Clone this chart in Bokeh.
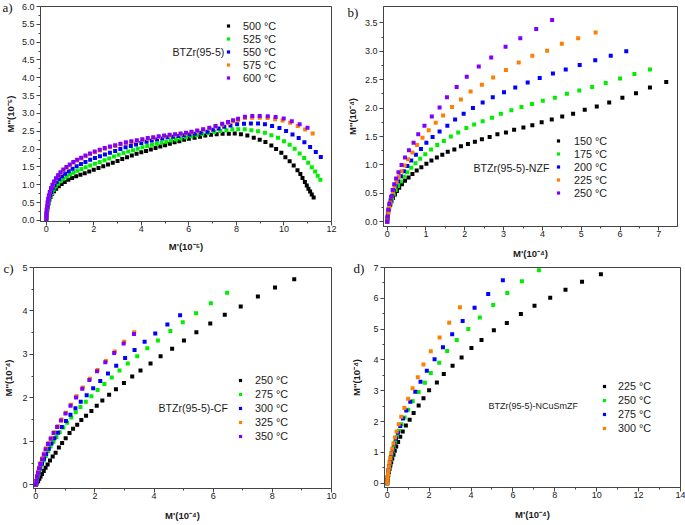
from bokeh.plotting import figure
from bokeh.layouts import column, row
from bokeh.models import Range1d, FixedTicker, PrintfTickFormatter, Legend, LegendItem, Label, Title
from bokeh.embed import file_html
from bokeh.resources import INLINE

# ---------------- data: panel a) BTZr(95-5)  (M' , M'' in 1e-5) ----------------
a_labels = ["500 \u00b0C", "525 \u00b0C", "550 \u00b0C", "575 \u00b0C", "600 \u00b0C"]
a500_x = [0, 0.01, 0.02, 0.04, 0.06, 0.09, 0.13, 0.18, 0.25, 0.33, 0.42, 0.53, 0.65, 0.78, 0.93, 1.09, 1.26, 1.44, 1.62, 1.81,
          2.0, 2.2, 2.4, 2.6, 2.8, 3.0, 3.2, 3.4, 3.6, 3.8, 4.0, 4.2, 4.4, 4.6, 4.8, 5.0, 5.2, 5.4, 5.6, 5.8,
          6.0, 6.24, 6.47, 6.69, 6.93, 7.17, 7.42, 7.68, 7.93, 8.19, 8.46, 8.73, 8.98, 9.22, 9.47, 9.67, 9.89, 10.06, 10.24, 10.41,
          10.57, 10.69, 10.78, 10.88, 10.96, 11.03, 11.10, 11.17, 11.25]
a500_y = [0, 0.08, 0.17, 0.27, 0.37, 0.47, 0.57, 0.66, 0.75, 0.82, 0.89, 0.96, 1.02, 1.08, 1.14, 1.19, 1.24, 1.28, 1.32, 1.37,
          1.42, 1.47, 1.52, 1.57, 1.62, 1.67, 1.72, 1.77, 1.82, 1.87, 1.91, 1.95, 1.99, 2.03, 2.07, 2.11, 2.15, 2.19, 2.22, 2.26,
          2.29, 2.32, 2.35, 2.38, 2.40, 2.42, 2.43, 2.43, 2.44, 2.42, 2.38, 2.32, 2.26, 2.20, 2.10, 2.00, 1.90, 1.77, 1.66, 1.54,
          1.41, 1.30, 1.19, 1.08, 0.98, 0.89, 0.81, 0.73, 0.64]
a525_x = [0, 0.01, 0.02, 0.04, 0.06, 0.09, 0.13, 0.18, 0.24, 0.31, 0.4, 0.5, 0.61, 0.73, 0.86, 1.0, 1.15, 1.31, 1.48, 1.66,
          1.85, 2.05, 2.25, 2.45, 2.65, 2.85, 3.05, 3.25, 3.45, 3.65, 3.85, 4.05, 4.25, 4.45, 4.65, 4.85, 5.05, 5.25, 5.45, 5.65,
          5.88, 6.1, 6.33, 6.57, 6.81, 7.07, 7.33, 7.58, 7.83, 8.08, 8.35, 8.63, 8.91, 9.2, 9.47, 9.75, 10.0, 10.24, 10.45, 10.66,
          10.85, 11.02, 11.17, 11.31, 11.42, 11.53]
a525_y = [0, 0.09, 0.18, 0.28, 0.38, 0.48, 0.58, 0.68, 0.77, 0.86, 0.95, 1.03, 1.10, 1.17, 1.23, 1.29, 1.34, 1.39, 1.44, 1.49,
          1.54, 1.59, 1.64, 1.69, 1.74, 1.79, 1.84, 1.89, 1.93, 1.97, 2.01, 2.05, 2.09, 2.12, 2.15, 2.18, 2.21, 2.24, 2.27, 2.30,
          2.33, 2.36, 2.39, 2.42, 2.45, 2.48, 2.51, 2.53, 2.56, 2.56, 2.56, 2.53, 2.50, 2.46, 2.39, 2.32, 2.22, 2.12, 2.01, 1.88,
          1.75, 1.62, 1.49, 1.37, 1.25, 1.14]
a550_x = [0, 0.01, 0.02, 0.04, 0.06, 0.09, 0.12, 0.16, 0.21, 0.27, 0.35, 0.44, 0.55, 0.67, 0.8, 0.95, 1.11, 1.28, 1.46, 1.65,
          1.85, 2.05, 2.26, 2.47, 2.68, 2.9, 3.12, 3.34, 3.56, 3.78, 4.0, 4.22, 4.44, 4.66, 4.88, 5.1, 5.33, 5.56, 5.79, 6.02,
          6.25, 6.5, 6.78, 7.02, 7.25, 7.49, 7.75, 8.03, 8.32, 8.61, 8.91, 9.2, 9.5, 9.81, 10.09, 10.36, 10.62, 10.86, 11.1, 11.34,
          11.55]
a550_y = [0, 0.1, 0.2, 0.3, 0.4, 0.5, 0.6, 0.7, 0.8, 0.9, 0.99, 1.08, 1.16, 1.24, 1.31, 1.38, 1.45, 1.52, 1.58, 1.64,
          1.70, 1.75, 1.80, 1.85, 1.90, 1.95, 2.0, 2.05, 2.09, 2.13, 2.17, 2.21, 2.24, 2.27, 2.30, 2.33, 2.35, 2.37, 2.39, 2.41,
          2.43, 2.46, 2.49, 2.54, 2.58, 2.63, 2.66, 2.70, 2.71, 2.72, 2.72, 2.70, 2.65, 2.59, 2.51, 2.41, 2.31, 2.19, 2.06, 1.92,
          1.78]
a575_x = [0, 0.005, 0.01, 0.02, 0.04, 0.06, 0.09, 0.12, 0.16, 0.21, 0.27, 0.34, 0.42, 0.51, 0.61, 0.73, 0.86, 1.0, 1.15, 1.31,
          1.48, 1.66, 1.85, 2.05, 2.26, 2.47, 2.69, 2.91, 3.13, 3.36, 3.59, 3.82, 4.05, 4.28, 4.51, 4.74, 4.97, 5.2, 5.43, 5.66,
          5.89, 6.12, 6.36, 6.61, 6.87, 7.13, 7.41, 7.66, 7.87, 8.07, 8.36, 8.66, 8.98, 9.31, 9.63, 9.94, 10.26, 10.58, 10.89, 11.21]
a575_y = [0, 0.1, 0.2, 0.3, 0.4, 0.5, 0.6, 0.7, 0.8, 0.9, 0.99, 1.08, 1.17, 1.25, 1.33, 1.41, 1.48, 1.55, 1.62, 1.68,
          1.74, 1.80, 1.86, 1.91, 1.96, 2.01, 2.05, 2.09, 2.13, 2.17, 2.20, 2.23, 2.26, 2.29, 2.31, 2.34, 2.36, 2.38, 2.40, 2.42,
          2.44, 2.47, 2.50, 2.54, 2.58, 2.63, 2.68, 2.73, 2.78, 2.82, 2.87, 2.88, 2.88, 2.87, 2.84, 2.80, 2.74, 2.65, 2.55, 2.44]
a600_x = [0, 0.005, 0.01, 0.02, 0.04, 0.06, 0.08, 0.11, 0.15, 0.2, 0.26, 0.33, 0.41, 0.5, 0.6, 0.72, 0.85, 0.99, 1.14, 1.3,
          1.47, 1.65, 1.84, 2.04, 2.25, 2.46, 2.68, 2.9, 3.12, 3.35, 3.58, 3.81, 4.04, 4.27, 4.5, 4.73, 4.96, 5.19, 5.42, 5.65,
          5.88, 6.11, 6.35, 6.6, 6.86, 7.12, 7.4, 7.65, 7.86, 8.07, 8.36, 8.67, 8.98, 9.32, 9.65, 9.99, 10.33, 10.66, 10.99]
a600_y = [0, 0.1, 0.2, 0.3, 0.4, 0.5, 0.6, 0.7, 0.8, 0.9, 1.0, 1.09, 1.18, 1.27, 1.35, 1.43, 1.5, 1.57, 1.64, 1.70,
          1.76, 1.82, 1.88, 1.93, 1.98, 2.03, 2.07, 2.11, 2.15, 2.19, 2.22, 2.25, 2.28, 2.31, 2.33, 2.36, 2.38, 2.40, 2.42, 2.44,
          2.46, 2.49, 2.52, 2.56, 2.60, 2.65, 2.71, 2.76, 2.81, 2.85, 2.91, 2.93, 2.93, 2.92, 2.90, 2.86, 2.78, 2.70, 2.60]

# ---------------- data: panel b) BTZr(95-5)-NZF  (1e-4) ----------------
b_labels = ["150 \u00b0C", "175 \u00b0C", "200 \u00b0C", "225 \u00b0C", "250 \u00b0C"]
b150_x = [0, 0.01, 0.02, 0.03, 0.05, 0.08, 0.11, 0.15, 0.2, 0.25, 0.31, 0.38, 0.46, 0.55, 0.65, 0.76, 0.88, 1.01, 1.14, 1.28,
          1.42, 1.56, 1.73, 1.90, 2.08, 2.26, 2.44, 2.64, 2.84, 3.06, 3.27, 3.51, 3.74, 3.98, 4.24, 4.51, 4.79, 5.09, 5.40, 5.72,
          6.06, 6.41, 6.77, 7.19]
b150_y = [0, 0.06, 0.12, 0.18, 0.24, 0.30, 0.36, 0.42, 0.48, 0.54, 0.60, 0.66, 0.72, 0.78, 0.84, 0.90, 0.96, 1.02, 1.08, 1.13,
          1.18, 1.23, 1.27, 1.33, 1.37, 1.41, 1.45, 1.49, 1.54, 1.57, 1.62, 1.66, 1.70, 1.75, 1.80, 1.85, 1.90, 1.97, 2.03, 2.10,
          2.18, 2.26, 2.36, 2.46]
b175_x = [0, 0.01, 0.02, 0.04, 0.06, 0.09, 0.13, 0.17, 0.22, 0.28, 0.35, 0.43, 0.52, 0.62, 0.73, 0.85, 0.98, 1.13, 1.29, 1.46,
          1.64, 1.83, 2.04, 2.24, 2.46, 2.70, 2.93, 3.20, 3.46, 3.73, 4.01, 4.32, 4.63, 4.95, 5.28, 5.63, 6.0, 6.37, 6.77]
b175_y = [0, 0.07, 0.14, 0.21, 0.28, 0.35, 0.42, 0.49, 0.56, 0.63, 0.71, 0.79, 0.87, 0.95, 1.03, 1.11, 1.19, 1.27, 1.35, 1.42,
          1.50, 1.57, 1.65, 1.71, 1.77, 1.83, 1.90, 1.96, 2.02, 2.07, 2.13, 2.18, 2.25, 2.31, 2.37, 2.44, 2.52, 2.60, 2.68]
b200_x = [0, 0.01, 0.02, 0.04, 0.06, 0.09, 0.13, 0.17, 0.22, 0.28, 0.35, 0.43, 0.52, 0.62, 0.74, 0.87, 1.01, 1.17, 1.35, 1.55,
          1.75, 1.97, 2.21, 2.46, 2.72, 3.01, 3.30, 3.62, 3.93, 4.27, 4.60, 4.96, 5.36, 5.76, 6.16]
b200_y = [0, 0.07, 0.14, 0.22, 0.30, 0.38, 0.46, 0.54, 0.62, 0.71, 0.80, 0.89, 0.98, 1.08, 1.18, 1.28, 1.39, 1.49, 1.59, 1.69,
          1.80, 1.90, 2.00, 2.10, 2.19, 2.28, 2.36, 2.45, 2.53, 2.61, 2.68, 2.76, 2.84, 2.92, 3.00]
b225_x = [0, 0.01, 0.03, 0.05, 0.08, 0.11, 0.15, 0.19, 0.24, 0.30, 0.37, 0.45, 0.54, 0.65, 0.77, 0.91, 1.07, 1.25, 1.44, 1.67,
          1.90, 2.15, 2.44, 2.73, 3.06, 3.39, 3.74, 4.12, 4.50, 4.92, 5.37]
b225_y = [0, 0.08, 0.16, 0.25, 0.34, 0.43, 0.52, 0.61, 0.70, 0.79, 0.89, 0.99, 1.10, 1.22, 1.35, 1.48, 1.61, 1.74, 1.87, 2.02,
          2.15, 2.29, 2.41, 2.54, 2.67, 2.80, 2.92, 3.01, 3.13, 3.23, 3.33]
b250_x = [0, 0.01, 0.03, 0.06, 0.1, 0.14, 0.18, 0.23, 0.29, 0.37, 0.46, 0.56, 0.68, 0.80, 0.96, 1.15, 1.35, 1.54, 1.79, 2.05,
          2.36, 2.68, 3.05, 3.43, 3.84, 4.25]
b250_y = [0, 0.09, 0.21, 0.32, 0.44, 0.56, 0.66, 0.76, 0.87, 1.0, 1.13, 1.26, 1.39, 1.54, 1.69, 1.85, 2.01, 2.19, 2.37, 2.55,
          2.73, 2.89, 3.08, 3.23, 3.39, 3.55]

# ---------------- data: panel c) BTZr(95-5)-CF  (1e-4) ----------------
c_labels = ["250 \u00b0C", "275 \u00b0C", "300 \u00b0C", "325 \u00b0C", "350 \u00b0C"]
c250_x = [0, 0.02, 0.05, 0.08, 0.12, 0.16, 0.21, 0.27, 0.33, 0.40, 0.48, 0.57, 0.67, 0.78, 0.89, 1.01, 1.14, 1.26, 1.40, 1.54,
          1.70, 1.88, 2.06, 2.25, 2.48, 2.71, 2.98, 3.26, 3.54, 3.88, 4.22, 4.61, 5.01, 5.43, 5.90, 6.39, 6.93, 7.51, 8.09, 8.74]
c250_y = [0, 0.02, 0.06, 0.09, 0.14, 0.19, 0.25, 0.32, 0.39, 0.47, 0.56, 0.65, 0.74, 0.86, 0.96, 1.07, 1.19, 1.29, 1.38, 1.49,
          1.59, 1.70, 1.82, 1.94, 2.07, 2.20, 2.34, 2.49, 2.63, 2.79, 2.96, 3.13, 3.32, 3.51, 3.71, 3.91, 4.10, 4.33, 4.54, 4.73]
c275_x = [0, 0.02, 0.04, 0.07, 0.10, 0.15, 0.21, 0.27, 0.34, 0.42, 0.50, 0.60, 0.70, 0.81, 0.93, 1.06, 1.20, 1.35, 1.51, 1.69,
          1.88, 2.09, 2.32, 2.57, 2.83, 3.11, 3.43, 3.77, 4.13, 4.55, 4.97, 5.42, 5.92, 6.47]
c275_y = [0, 0.05, 0.11, 0.19, 0.26, 0.36, 0.46, 0.56, 0.66, 0.77, 0.88, 0.99, 1.10, 1.21, 1.32, 1.43, 1.55, 1.67, 1.79, 1.91,
          2.04, 2.18, 2.32, 2.47, 2.63, 2.79, 2.96, 3.14, 3.32, 3.54, 3.74, 3.95, 4.18, 4.42]
c300_x = [0, 0.03, 0.06, 0.10, 0.15, 0.21, 0.28, 0.35, 0.44, 0.53, 0.63, 0.75, 0.88, 1.02, 1.17, 1.34, 1.52, 1.72, 1.94, 2.18,
          2.44, 2.72, 3.02, 3.34, 3.68, 4.04, 4.45, 4.88]
c300_y = [0, 0.09, 0.18, 0.28, 0.38, 0.49, 0.60, 0.71, 0.83, 0.95, 1.07, 1.20, 1.33, 1.47, 1.61, 1.76, 1.91, 2.06, 2.22, 2.39,
          2.56, 2.74, 2.92, 3.10, 3.29, 3.48, 3.69, 3.90]
c325_x = [0, 0.02, 0.05, 0.08, 0.12, 0.16, 0.22, 0.28, 0.35, 0.43, 0.52, 0.62, 0.74, 0.87, 1.02, 1.19, 1.38, 1.59, 1.83, 2.09,
          2.37, 2.67, 2.99, 3.33]
c325_y = [0, 0.10, 0.20, 0.30, 0.40, 0.50, 0.61, 0.72, 0.84, 0.96, 1.08, 1.21, 1.35, 1.50, 1.66, 1.84, 2.04, 2.24, 2.44, 2.64,
          2.85, 3.07, 3.29, 3.51]
c350_x = [0, 0.02, 0.04, 0.07, 0.11, 0.15, 0.21, 0.27, 0.33, 0.41, 0.50, 0.60, 0.72, 0.85, 1.00, 1.17, 1.36, 1.57, 1.81, 2.07,
          2.35, 2.65, 2.97, 3.32]
c350_y = [0, 0.09, 0.19, 0.28, 0.38, 0.48, 0.59, 0.70, 0.82, 0.94, 1.06, 1.19, 1.33, 1.48, 1.64, 1.82, 2.01, 2.21, 2.41, 2.61,
          2.82, 3.03, 3.25, 3.47]

# ---------------- data: panel d) BTZr(95-5)-NCuSmZF  (1e-4) ----------------
d_labels = ["225 \u00b0C", "250 \u00b0C", "275 \u00b0C", "300 \u00b0C"]
d225_x = [0, 0.01, 0.03, 0.05, 0.08, 0.11, 0.15, 0.19, 0.24, 0.30, 0.36, 0.43, 0.52, 0.62, 0.74, 0.89, 1.07, 1.26, 1.50, 1.73,
          2.00, 2.37, 2.70, 3.12, 3.55, 4.02, 4.50, 5.09, 5.71, 6.38, 7.03, 7.78, 8.51, 9.30, 10.20]
d225_y = [0, 0.08, 0.17, 0.26, 0.36, 0.46, 0.57, 0.68, 0.80, 0.92, 1.05, 1.19, 1.34, 1.51, 1.68, 1.87, 2.06, 2.28, 2.52, 2.76,
          3.02, 3.27, 3.54, 3.81, 4.08, 4.39, 4.65, 4.96, 5.20, 5.49, 5.76, 6.02, 6.28, 6.54, 6.78]
d250_x = [0, 0.01, 0.02, 0.04, 0.06, 0.09, 0.12, 0.16, 0.20, 0.25, 0.31, 0.38, 0.46, 0.56, 0.68, 0.83, 1.00, 1.22, 1.50, 1.80,
          2.08, 2.48, 2.86, 3.32, 3.87, 4.42, 5.06, 5.73, 6.43, 7.24]
d250_y = [0, 0.09, 0.18, 0.28, 0.39, 0.51, 0.63, 0.76, 0.89, 1.03, 1.18, 1.34, 1.51, 1.70, 1.91, 2.13, 2.38, 2.66, 2.96, 3.26,
          3.58, 3.91, 4.29, 4.65, 5.00, 5.38, 5.78, 6.17, 6.55, 6.91]
d275_x = [0, 0.01, 0.02, 0.04, 0.06, 0.09, 0.13, 0.17, 0.22, 0.28, 0.34, 0.42, 0.51, 0.62, 0.75, 0.91, 1.10, 1.34, 1.59, 1.89,
          2.26, 2.66, 3.10, 3.60, 4.17, 4.82, 5.52]
d275_y = [0, 0.10, 0.20, 0.31, 0.43, 0.56, 0.69, 0.83, 0.97, 1.12, 1.28, 1.45, 1.64, 1.86, 2.10, 2.36, 2.64, 2.97, 3.29, 3.65,
          4.02, 4.41, 4.83, 5.26, 5.69, 6.14, 6.59]
d300_x = [0, 0.01, 0.02, 0.04, 0.06, 0.08, 0.11, 0.15, 0.19, 0.24, 0.30, 0.37, 0.45, 0.55, 0.67, 0.82, 1.00, 1.21, 1.46, 1.73,
          2.08, 2.50, 2.96, 3.47]
d300_y = [0, 0.09, 0.19, 0.30, 0.42, 0.55, 0.68, 0.82, 0.97, 1.12, 1.29, 1.48, 1.68, 1.91, 2.16, 2.44, 2.74, 3.08, 3.44, 3.85,
          4.28, 4.73, 5.21, 5.71]

# tick values
a_xticks = [0, 2, 4, 6, 8, 10, 12]
a_yticks = [0.0, 0.5, 1.0, 1.5, 2.0, 2.5, 3.0, 3.5, 4.0, 4.5, 5.0, 5.5, 6.0]
b_xticks = [0, 1, 2, 3, 4, 5, 6, 7]
b_yticks = [0.0, 0.5, 1.0, 1.5, 2.0, 2.5, 3.0, 3.5]
c_xticks = [0, 2, 4, 6, 8, 10]
c_yticks = [0, 1, 2, 3, 4, 5]
d_xticks = [0, 2, 4, 6, 8, 10, 12, 14]
d_yticks = [0, 1, 2, 3, 4, 5, 6, 7]

COLORS = ["#000000", "#00ee00", "#0000ff", "#ff8000", "#8000ff"]
FONT = "Liberation Sans"
SERIF = "Liberation Serif"
LINE = "#444444"
TXT = "#1a1a1a"


def mids(t):
    return [(t[i] + t[i + 1]) / 2 for i in range(len(t) - 1)]


def panel(fw, fh, borders, xr, yr, xt, yt, xfmt, yfmt, xlab, ylab, xls, yls):
    l, r, t, b = borders
    p = figure(frame_width=fw, frame_height=fh, x_range=Range1d(*xr), y_range=Range1d(*yr),
               output_backend="svg", toolbar_location=None,
               min_border_left=l, min_border_right=r, min_border_top=t, min_border_bottom=b)
    p.grid.visible = False
    p.outline_line_color = LINE
    p.outline_line_width = 1
    p.background_fill_color = "white"
    p.border_fill_color = "white"
    p.xaxis.ticker = FixedTicker(ticks=xt, minor_ticks=mids(xt))
    p.yaxis.ticker = FixedTicker(ticks=yt, minor_ticks=mids(yt))
    p.xaxis.formatter = PrintfTickFormatter(format=xfmt)
    p.yaxis.formatter = PrintfTickFormatter(format=yfmt)
    p.xaxis.axis_label = xlab
    p.yaxis.axis_label = ylab
    p.xaxis.axis_label_standoff = xls
    p.yaxis.axis_label_standoff = yls
    for ax in (p.xaxis[0], p.yaxis[0]):
        ax.axis_line_color = LINE
        ax.major_tick_line_color = LINE
        ax.minor_tick_line_color = LINE
        ax.major_tick_in = 0
        ax.major_tick_out = 4
        ax.minor_tick_in = 0
        ax.minor_tick_out = 2
        ax.major_label_text_font = FONT
        ax.major_label_text_font_size = "9px"
        ax.major_label_text_color = TXT
        ax.axis_label_text_font = FONT
        ax.axis_label_text_font_size = "9.5px"
        ax.axis_label_text_font_style = "bold"
        ax.axis_label_text_color = TXT
    p.xaxis.major_label_standoff = 0
    p.yaxis.major_label_standoff = 2
    return p


def add_series(p, series, labels, loc, standoff, row_h):
    items = []
    for (xs, ys), lab, col in zip(series, labels, COLORS):
        r = p.scatter(xs, ys, marker="square", size=4, fill_color=col, line_color=None)
        items.append(LegendItem(label=lab, renderers=[r]))
    lg = Legend(items=items, location=loc, orientation="vertical", glyph_width=8, glyph_height=row_h,
                label_height=row_h, label_standoff=standoff, spacing=0, padding=0, margin=0,
                background_fill_alpha=0, border_line_alpha=0, label_text_font=FONT,
                label_text_font_size="10.8px", label_text_color=TXT)
    p.add_layout(lg)


def add_text(p, x, y, txt, size="10.6px"):
    p.add_layout(Label(x=x, y=y, x_units="screen", y_units="screen", text=txt, text_font=FONT,
                       text_font_size=size, text_baseline="middle", text_color=TXT))


def add_tag(p, txt, offset, standoff):
    p.add_layout(Title(text=txt, align="left", offset=offset, standoff=standoff, text_font=SERIF,
                       text_font_size="13px", text_font_style="normal", text_color="#111111"), "above")


# panel a  (canvas 340 x 260)
pa = panel(291, 215, (40, 9, 6, 39), (-0.24, 12.0), (-0.03, 6.0), a_xticks, a_yticks, "%d", "%.1f",
           "M'(10\u207b\u2075)", "M''(10\u207b\u2075)", 6, 3)
add_series(pa, [(a500_x, a500_y), (a525_x, a525_y), (a550_x, a550_y), (a575_x, a575_y), (a600_x, a600_y)],
           a_labels, (184, 137), 11, 13)
add_text(pa, 132, 170, "BTZr(95-5)")
add_tag(pa, "a)", -38, -16)

# panel b  (canvas 345 x 260)
pb = panel(294, 220, (43, 8, 3, 37), (-0.095, 7.48), (-0.083, 3.787), b_xticks, b_yticks, "%d", "%.1f",
           "M'(10\u207b\u2074)", "M''(10\u207b\u2074)", 8, 4)
add_series(pb, [(b150_x, b150_y), (b175_x, b175_y), (b200_x, b200_y), (b225_x, b225_y), (b250_x, b250_y)],
           b_labels, (171, 27), 12, 13)
add_text(pb, 90, 59, "BTZr(95-5)-NZF")
add_tag(pb, "b)", -36, -27)

# panel c  (canvas 340 x 265)
pc = panel(298, 221, (32, 10, 6, 38), (-0.078, 10.0), (-0.085, 5.0), c_xticks, c_yticks, "%d", "%d",
           "M'(10\u207b\u2074)", "M''(10\u207b\u2074)", 8, 5)
add_series(pc, [(c250_x, c250_y), (c275_x, c275_y), (c300_x, c300_y), (c325_x, c325_y), (c350_x, c350_y)],
           c_labels, (203, 45), 11, 14)
add_text(pc, 125, 81, "BTZr(95-5)-CF")
add_tag(pc, "c)", -30, -16)

# panel d  (canvas 345 x 265)
pd = panel(296, 220, (43, 6, 7, 38), (-0.13, 14.0), (-0.14, 7.0), d_xticks, d_yticks, "%d", "%d",
           "M'(10\u207b\u2074)", "M''(10\u207b\u2074)", 8, 8)
add_series(pd, [(d225_x, d225_y), (d250_x, d250_y), (d275_x, d275_y), (d300_x, d300_y)],
           d_labels, (216, 52), 10, 14)
add_text(pd, 104, 82, "BTZr(95-5)-NCuSmZF", "9px")
add_tag(pd, "d)", -31, -17)

layout = column(row(pa, pb), row(pc, pd))

with open("out.html", "w") as f:
    f.write(file_html(layout, INLINE))
